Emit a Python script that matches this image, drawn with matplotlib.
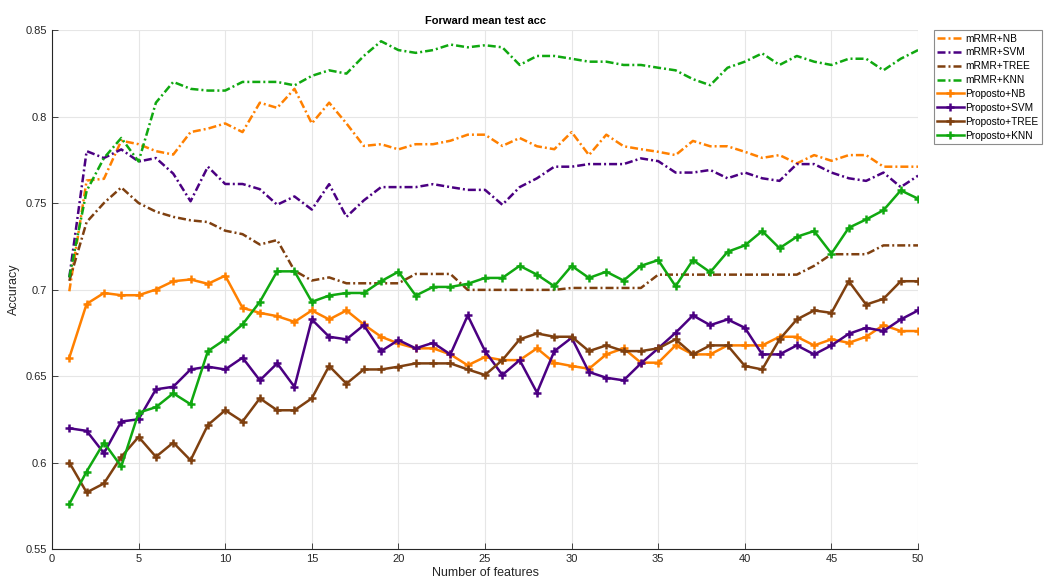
import numpy as np
import matplotlib.pyplot as plt

plt.rcParams['font.family'] = ['Liberation Sans', 'DejaVu Sans']

# numero de features avaliadas
n_feat = np.arange(1, 51)

# curvas mRMR (tracejadas)
mrmr_nb = [0.699, 0.763, 0.764, 0.786, 0.784, 0.780, 0.778, 0.791, 0.793, 0.796,
           0.791, 0.808, 0.805, 0.816, 0.796, 0.808, 0.796, 0.783, 0.784, 0.781,
           0.784, 0.784, 0.786, 0.7895, 0.7895, 0.783, 0.7876, 0.7828, 0.7811, 0.791,
           0.7777, 0.7895, 0.7828, 0.7811, 0.7796, 0.7777, 0.7859, 0.7828, 0.7828, 0.7796,
           0.7761, 0.7777, 0.7729, 0.7777, 0.7744, 0.7777, 0.7777, 0.771, 0.771, 0.771]
mrmr_svm = [0.707, 0.780, 0.776, 0.781, 0.774, 0.776, 0.767, 0.751, 0.771, 0.761,
            0.761, 0.758, 0.749, 0.7538, 0.7462, 0.7609, 0.742, 0.7515, 0.7592, 0.7592,
            0.7592, 0.7609, 0.7592, 0.7576, 0.7576, 0.749, 0.7592, 0.7643, 0.771, 0.771,
            0.7725, 0.7725, 0.7725, 0.7758, 0.7742, 0.7676, 0.7676, 0.7691, 0.7643, 0.7676,
            0.7643, 0.7628, 0.7725, 0.7725, 0.7676, 0.7643, 0.7628, 0.7676, 0.7592, 0.7658]
mrmr_tree = [0.705, 0.739, 0.750, 0.759, 0.750, 0.745, 0.742, 0.740, 0.739, 0.734,
             0.732, 0.726, 0.7286, 0.7109, 0.7052, 0.707, 0.7036, 0.7036, 0.7036, 0.7036,
             0.709, 0.709, 0.709, 0.6998, 0.6998, 0.6998, 0.6998, 0.6998, 0.6998, 0.7009,
             0.7009, 0.7009, 0.7009, 0.7009, 0.7086, 0.7086, 0.7086, 0.7086, 0.7086, 0.7086,
             0.7086, 0.7086, 0.7086, 0.7137, 0.7204, 0.7204, 0.7204, 0.7255, 0.7255, 0.7255]
mrmr_knn = [0.707, 0.757, 0.776, 0.7876, 0.774, 0.808, 0.820, 0.816, 0.815, 0.815,
            0.820, 0.820, 0.820, 0.818, 0.8235, 0.8267, 0.8248, 0.835, 0.8435, 0.8384,
            0.8368, 0.8384, 0.8416, 0.840, 0.8412, 0.840, 0.8298, 0.835, 0.835, 0.8334,
            0.8317, 0.8317, 0.8298, 0.8298, 0.8282, 0.8267, 0.8216, 0.8181, 0.8282, 0.8317,
            0.8365, 0.8298, 0.835, 0.8317, 0.8298, 0.8334, 0.8334, 0.8267, 0.8334, 0.8384]

# curvas do metodo proposto (com marcadores)
prop_nb = [0.6606, 0.6917, 0.698, 0.6967, 0.6967, 0.700, 0.7048, 0.7058, 0.7033, 0.708,
           0.6894, 0.6865, 0.6846, 0.6813, 0.6879, 0.6827, 0.6879, 0.6798, 0.6727, 0.6688,
           0.666, 0.666, 0.6625, 0.6562, 0.661, 0.6592, 0.6592, 0.666, 0.6577, 0.6558,
           0.6542, 0.6625, 0.666, 0.6577, 0.6577, 0.6677, 0.6625, 0.6625, 0.6677, 0.6677,
           0.6677, 0.6727, 0.6727, 0.6677, 0.6712, 0.6692, 0.6727, 0.6794, 0.676, 0.676]
prop_svm = [0.6198, 0.6183, 0.6054, 0.6237, 0.625, 0.6423, 0.6438, 0.6538, 0.6554, 0.6538,
            0.6606, 0.6475, 0.6573, 0.6437, 0.6827, 0.6727, 0.6712, 0.6794, 0.6644, 0.6708,
            0.666, 0.6692, 0.6625, 0.685, 0.6644, 0.6506, 0.6592, 0.6404, 0.6644, 0.6721,
            0.6523, 0.649, 0.6475, 0.6573, 0.666, 0.675, 0.685, 0.6794, 0.6827, 0.6779,
            0.6625, 0.6625, 0.6677, 0.6625, 0.6677, 0.6744, 0.6779, 0.676, 0.6827, 0.6879]
prop_tree = [0.600, 0.5827, 0.5879, 0.6033, 0.6148, 0.6033, 0.6115, 0.6013, 0.6217, 0.6302,
             0.6237, 0.6371, 0.6302, 0.6302, 0.6371, 0.6558, 0.6456, 0.6538, 0.6538, 0.6554,
             0.6573, 0.6573, 0.6573, 0.6538, 0.6506, 0.6592, 0.6712, 0.6746, 0.6727, 0.6727,
             0.6644, 0.6677, 0.6644, 0.6644, 0.666, 0.6712, 0.6625, 0.6677, 0.6677, 0.6558,
             0.6538, 0.6712, 0.6827, 0.6879, 0.6865, 0.7048, 0.6913, 0.6946, 0.7048, 0.7048]
prop_knn = [0.576, 0.5948, 0.6115, 0.5977, 0.6288, 0.632, 0.640, 0.6337, 0.6644, 0.6712,
            0.6798, 0.6929, 0.7105, 0.7105, 0.6929, 0.6965, 0.698, 0.698, 0.7048, 0.7103,
            0.6965, 0.7015, 0.7015, 0.7033, 0.7067, 0.7067, 0.7137, 0.7086, 0.7019, 0.7137,
            0.7067, 0.7103, 0.7052, 0.7137, 0.717, 0.7019, 0.717, 0.71, 0.7218, 0.7255,
            0.7338, 0.7239, 0.7305, 0.7338, 0.7208, 0.7357, 0.7405, 0.7458, 0.7573, 0.7525]

laranja = '#FF8000'
roxo = '#4B0082'
marrom = '#7F4010'
verde = '#10A810'

traco = (3.2, 1.2, 0.8, 1.2)  # traco-ponto mais curto

fig = plt.figure(figsize=(10.46, 5.84), dpi=100)
ax = fig.add_axes([0.0497, 0.0599, 0.828, 0.8887])

ax.plot(n_feat, mrmr_nb, '-.', c=laranja, lw=1.8, dashes=traco, label='mRMR+NB')
ax.plot(n_feat, mrmr_svm, '-.', c=roxo, lw=1.8, dashes=traco, label='mRMR+SVM')
ax.plot(n_feat, mrmr_tree, '-.', c=marrom, lw=1.8, dashes=traco, label='mRMR+TREE')
ax.plot(n_feat, mrmr_knn, '-.', c=verde, lw=1.8, dashes=traco, label='mRMR+KNN')
ax.plot(n_feat, prop_nb, '-+', c=laranja, lw=1.8, ms=6, mew=1.8, label='Proposto+NB')
ax.plot(n_feat, prop_svm, '-+', c=roxo, lw=1.8, ms=6, mew=1.8, label='Proposto+SVM')
ax.plot(n_feat, prop_tree, '-+', c=marrom, lw=1.8, ms=6, mew=1.8, label='Proposto+TREE')
ax.plot(n_feat, prop_knn, '-+', c=verde, lw=1.8, ms=6, mew=1.8, label='Proposto+KNN')

ax.set_xlim(0, 50)
ax.set_ylim(0.55, 0.85)
ax.set_xticks(np.arange(0, 51, 5))
ax.set_yticks(np.arange(0.55, 0.851, 0.05))
ax.set_yticklabels(['0.55', '0.6', '0.65', '0.7', '0.75', '0.8', '0.85'])
ax.grid(True, color='#E6E6E6', lw=0.8)
ax.set_axisbelow(True)
for lado in ['top', 'right']:
    ax.spines[lado].set_visible(False)
for lado in ['left', 'bottom']:
    ax.spines[lado].set_color('#262626')
    ax.spines[lado].set_linewidth(0.8)
ax.tick_params(direction='in', length=4, width=0.6, labelsize=8, colors='#262626')

ax.set_title('Forward mean test acc', fontsize=8, fontweight='bold', pad=4)
ax.set_xlabel('Number of features', fontsize=9, color='#262626', labelpad=2)
ax.set_ylabel('Accuracy', fontsize=9, color='#262626', labelpad=4)

leg = ax.legend(loc='upper left', bbox_to_anchor=(1.018, 1.0), fontsize=7.3,
                fancybox=False, framealpha=1, edgecolor='#8C8C8C',
                handlelength=2.6, borderpad=0.35, labelspacing=0.38,
                handletextpad=0.2, borderaxespad=0)
leg.get_frame().set_linewidth(0.8)

plt.savefig('out.png', dpi=100)
